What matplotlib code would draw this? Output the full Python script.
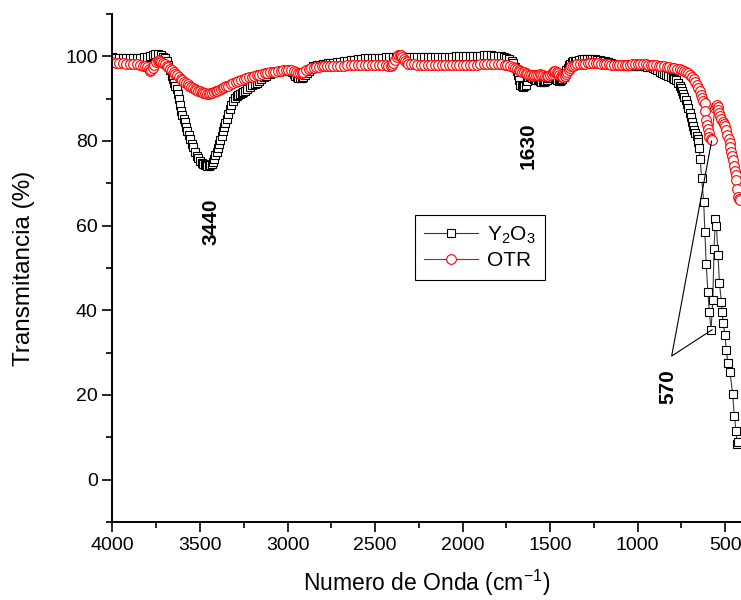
import numpy as np
import matplotlib
matplotlib.use("Agg")
import matplotlib.pyplot as plt
from matplotlib.ticker import MultipleLocator

plt.rcParams['font.family'] = ['Liberation Sans', 'DejaVu Sans']
plt.rcParams['mathtext.fontset'] = 'custom'
plt.rcParams['mathtext.rm'] = 'Liberation Sans'

# Y2O3 spectrum: (wavenumber cm-1, transmittance %)
y2o3_points = [
    (4000, 99.8), (3980, 99.7), (3960, 99.7), (3940, 99.6), (3920, 99.7), (3900, 99.6),
    (3880, 99.5), (3860, 99.6), (3840, 99.7), (3820, 99.8), (3800, 99.9), (3785, 100.1),
    (3770, 100.4), (3755, 100.6), (3740, 100.5), (3725, 100.2), (3712, 99.9), (3700, 99.5),
    (3690, 98.9), (3680, 98.0), (3671, 96.8), (3662, 95.4), (3655, 94.6), (3648, 93.8),
    (3640, 93.0), (3633, 92.2), (3626, 91.0), (3620, 89.8), (3613, 88.4), (3607, 87.2),
    (3600, 86.2), (3593, 85.2), (3586, 84.4), (3579, 83.3), (3572, 82.3), (3565, 81.3),
    (3557, 80.4), (3548, 79.4), (3540, 78.5), (3530, 77.4), (3519, 76.5), (3510, 75.9),
    (3500, 75.3), (3491, 74.9), (3483, 74.6), (3474, 74.4), (3465, 74.3), (3457, 74.2),
    (3450, 74.2), (3441, 74.3), (3433, 74.5), (3426, 75.0), (3420, 75.8), (3412, 76.6),
    (3405, 77.4), (3398, 78.3), (3390, 79.3), (3383, 80.3), (3376, 81.2), (3369, 82.3),
    (3362, 83.3), (3355, 84.2), (3348, 85.1), (3339, 86.3), (3330, 87.5), (3321, 88.6),
    (3312, 89.5), (3301, 90.1), (3290, 90.6), (3280, 90.9), (3270, 91.2), (3262, 91.4),
    (3254, 91.5), (3242, 91.9), (3230, 92.3), (3215, 92.8), (3200, 93.2), (3188, 93.5),
    (3176, 93.8), (3163, 94.2), (3150, 94.6), (3135, 95.0), (3120, 95.4), (3100, 95.8),
    (3083, 96.2), (3066, 96.4), (3050, 96.5), (3035, 96.6), (3020, 96.6), (3003, 96.6),
    (2986, 96.6), (2975, 96.2), (2965, 95.8), (2956, 95.3), (2948, 95.0), (2939, 94.8),
    (2930, 94.8), (2920, 94.9), (2911, 95.0), (2900, 95.5), (2890, 96.0), (2880, 96.6),
    (2870, 97.0), (2862, 97.3), (2855, 97.6), (2842, 97.8), (2830, 97.9), (2815, 98.0),
    (2800, 98.2), (2785, 98.3), (2770, 98.4), (2755, 98.5), (2740, 98.5), (2720, 98.6),
    (2700, 98.7), (2680, 98.9), (2660, 99.0), (2640, 99.1), (2620, 99.2), (2600, 99.3),
    (2580, 99.4), (2560, 99.5), (2540, 99.6), (2520, 99.6), (2500, 99.7), (2480, 99.7),
    (2460, 99.7), (2440, 99.8), (2420, 99.8), (2400, 99.8), (2380, 99.8), (2360, 99.9),
    (2340, 99.9), (2320, 99.9), (2300, 99.9), (2280, 99.8), (2260, 99.8), (2240, 99.8),
    (2220, 99.8), (2200, 99.9), (2180, 99.9), (2160, 99.9), (2140, 99.9), (2120, 99.9),
    (2100, 99.9), (2080, 99.9), (2060, 99.9), (2040, 100.0), (2020, 100.0), (2000, 100.0),
    (1980, 100.0), (1960, 100.1), (1940, 100.1), (1920, 100.1), (1900, 100.1), (1880, 100.2),
    (1860, 100.2), (1840, 100.2), (1820, 100.1), (1800, 100.0), (1780, 100.0), (1765, 99.9),
    (1750, 99.7), (1735, 99.4), (1720, 99.0), (1710, 98.4), (1700, 97.5), (1692, 96.5),
    (1685, 95.5), (1677, 94.3), (1670, 93.3), (1662, 92.9), (1655, 92.8), (1647, 93.0),
    (1640, 93.3), (1632, 94.2), (1625, 95.0), (1617, 95.2), (1610, 95.2), (1602, 94.9),
    (1595, 94.6), (1587, 94.4), (1580, 94.3), (1572, 94.4), (1565, 94.5), (1557, 94.2),
    (1550, 94.0), (1542, 93.9), (1535, 93.9), (1527, 94.1), (1520, 94.4), (1512, 94.9),
    (1505, 95.3), (1497, 95.5), (1490, 95.5), (1482, 95.3), (1475, 95.0), (1467, 94.6),
    (1460, 94.3), (1452, 94.1), (1445, 94.1), (1437, 94.3), (1430, 94.6), (1422, 95.2),
    (1415, 96.0), (1407, 96.7), (1400, 97.3), (1392, 97.9), (1385, 98.3), (1377, 98.6),
    (1370, 98.8), (1360, 98.9), (1350, 99.0), (1335, 99.2), (1320, 99.3), (1305, 99.4),
    (1290, 99.4), (1275, 99.4), (1260, 99.3), (1245, 99.3), (1230, 99.2), (1215, 99.1),
    (1200, 99.0), (1185, 98.8), (1170, 98.6), (1155, 98.4), (1140, 98.3), (1125, 98.1),
    (1110, 98.0), (1095, 97.9), (1080, 97.8), (1065, 97.7), (1050, 97.6), (1035, 97.6),
    (1020, 97.6), (1005, 97.6), (990, 97.6), (975, 97.6), (960, 97.6), (945, 97.5),
    (930, 97.4), (915, 97.2), (900, 97.0), (887, 96.7), (874, 96.4), (862, 96.1),
    (850, 95.8), (837, 95.5), (825, 95.3), (812, 95.1), (800, 94.9), (790, 94.6),
    (780, 94.3), (770, 93.7), (760, 93.0), (752, 92.4), (745, 91.8), (739, 91.2),
    (733, 90.5), (725, 89.6), (718, 88.8), (711, 87.7), (704, 86.6), (697, 85.6),
    (690, 84.6), (683, 83.6), (676, 82.6), (670, 81.9), (664, 81.2), (658, 80.5),
    (653, 79.8), (649, 78.3), (643, 75.7), (635, 71.3), (623, 65.6), (616, 58.6),
    (609, 51.0), (599, 44.3), (591, 39.7), (581, 35.4), (571, 42.5), (564, 54.5),
    (556, 61.6), (550, 59.9), (541, 53.0), (533, 46.5), (522, 42.0), (518, 39.6),
    (512, 37.0), (501, 34.2), (495, 30.7), (484, 27.6), (473, 25.5), (458, 20.3),
    (448, 15.1), (438, 11.4), (432, 8.5), (425, 9.0),
]

# OTR spectrum: (wavenumber cm-1, transmittance %)
otr_points = [
    (4000, 98.6), (3980, 98.5), (3960, 98.4), (3940, 98.4), (3920, 98.3), (3900, 98.2),
    (3880, 98.2), (3860, 98.1), (3840, 98.0), (3825, 97.8), (3812, 97.7), (3800, 97.5),
    (3792, 97.0), (3785, 96.5), (3777, 96.7), (3770, 97.2), (3760, 97.9), (3750, 98.6),
    (3742, 99.0), (3735, 99.2), (3727, 99.0), (3720, 98.7), (3710, 98.4), (3700, 98.1),
    (3690, 97.8), (3680, 97.4), (3670, 97.1), (3660, 96.7), (3650, 96.3), (3640, 95.9),
    (3630, 95.5), (3620, 95.1), (3610, 94.7), (3600, 94.4), (3590, 94.0), (3580, 93.7),
    (3570, 93.4), (3560, 93.1), (3550, 92.8), (3540, 92.6), (3530, 92.3), (3520, 92.1),
    (3510, 91.9), (3500, 91.7), (3490, 91.5), (3480, 91.4), (3470, 91.3), (3460, 91.2),
    (3450, 91.2), (3440, 91.3), (3430, 91.4), (3420, 91.6), (3410, 91.7), (3400, 91.9),
    (3390, 92.1), (3380, 92.3), (3370, 92.5), (3360, 92.7), (3350, 92.9), (3340, 93.1),
    (3325, 93.4), (3310, 93.6), (3295, 93.9), (3280, 94.1), (3265, 94.4), (3250, 94.6),
    (3235, 94.8), (3220, 95.0), (3205, 95.2), (3190, 95.4), (3175, 95.6), (3160, 95.7),
    (3145, 95.9), (3130, 96.0), (3115, 96.1), (3100, 96.2), (3085, 96.3), (3070, 96.4),
    (3055, 96.5), (3040, 96.6), (3025, 96.7), (3010, 96.8), (2995, 96.8), (2980, 96.7),
    (2965, 96.5), (2950, 96.2), (2940, 96.0), (2930, 96.0), (2920, 96.1), (2910, 96.4),
    (2895, 96.7), (2880, 97.0), (2865, 97.2), (2850, 97.3), (2835, 97.4), (2820, 97.5),
    (2805, 97.6), (2790, 97.6), (2775, 97.7), (2760, 97.7), (2740, 97.8), (2720, 97.8),
    (2700, 97.8), (2680, 97.8), (2660, 97.9), (2640, 97.9), (2620, 97.9), (2600, 97.9),
    (2580, 98.0), (2560, 98.0), (2540, 98.0), (2520, 98.0), (2500, 98.0), (2480, 98.0),
    (2460, 98.0), (2440, 97.9), (2425, 97.8), (2410, 97.6), (2402, 97.9), (2395, 98.4),
    (2385, 99.2), (2375, 99.9), (2368, 100.2), (2360, 100.4), (2352, 100.2), (2345, 99.8),
    (2337, 99.4), (2330, 99.0), (2320, 98.6), (2310, 98.3), (2295, 98.2), (2280, 98.1),
    (2260, 98.0), (2240, 98.0), (2220, 98.0), (2200, 98.0), (2180, 97.9), (2160, 97.9),
    (2140, 97.9), (2120, 97.9), (2100, 97.9), (2080, 97.9), (2060, 97.9), (2040, 97.9),
    (2020, 97.9), (2000, 97.9), (1980, 98.0), (1960, 98.0), (1940, 98.0), (1920, 98.0),
    (1900, 98.1), (1880, 98.1), (1860, 98.2), (1840, 98.2), (1820, 98.2), (1800, 98.2),
    (1780, 98.1), (1760, 98.0), (1745, 97.9), (1730, 97.7), (1715, 97.5), (1700, 97.3),
    (1690, 97.0), (1680, 96.8), (1670, 96.6), (1660, 96.4), (1650, 96.2), (1640, 96.0),
    (1630, 95.8), (1620, 95.7), (1610, 95.5), (1600, 95.4), (1590, 95.5), (1580, 95.6),
    (1570, 95.7), (1560, 95.8), (1550, 95.7), (1540, 95.6), (1530, 95.4), (1520, 95.3),
    (1510, 95.4), (1500, 95.6), (1492, 95.9), (1485, 96.3), (1477, 96.5), (1470, 96.6),
    (1462, 96.4), (1455, 96.0), (1447, 95.6), (1440, 95.3), (1432, 95.2), (1425, 95.2),
    (1417, 95.4), (1410, 95.8), (1402, 96.3), (1395, 96.8), (1387, 97.2), (1380, 97.6),
    (1370, 97.8), (1360, 98.0), (1345, 98.1), (1330, 98.2), (1315, 98.3), (1300, 98.3),
    (1285, 98.4), (1270, 98.4), (1255, 98.4), (1240, 98.4), (1225, 98.4), (1210, 98.3),
    (1195, 98.3), (1180, 98.2), (1165, 98.1), (1150, 98.0), (1135, 98.0), (1120, 97.9),
    (1105, 97.9), (1090, 97.9), (1075, 97.9), (1060, 98.0), (1045, 98.0), (1030, 98.1),
    (1015, 98.1), (1000, 98.1), (985, 98.1), (970, 98.1), (955, 98.1), (940, 98.0),
    (925, 98.0), (910, 98.0), (895, 97.9), (880, 97.8), (865, 97.7), (850, 97.6),
    (835, 97.5), (820, 97.4), (805, 97.3), (790, 97.2), (775, 97.1), (760, 97.0),
    (748, 96.8), (735, 96.6), (722, 96.3), (710, 96.0), (700, 95.6), (690, 95.2),
    (680, 94.6), (670, 94.0), (662, 93.3), (655, 92.6), (647, 91.7), (640, 90.8),
    (634, 90.1), (628, 89.4), (618, 88.9), (613, 87.0), (609, 85.0), (604, 83.8),
    (600, 82.8), (595, 81.8), (590, 81.0), (584, 80.5), (578, 80.2), (560, 87.8),
    (554, 88.3), (548, 88.5), (544, 88.0), (540, 87.4), (535, 86.7), (530, 86.0),
    (522, 85.2), (515, 84.5), (508, 84.0), (500, 83.5), (494, 82.5), (488, 81.5),
    (481, 80.5), (475, 79.5), (470, 78.5), (465, 77.5), (460, 76.5), (455, 75.5),
    (450, 74.2), (445, 73.0), (441, 71.9), (437, 70.8), (432, 68.7), (428, 66.7),
    (423, 66.2), (418, 66.0),
]

y2o3_wn, y2o3_t = zip(*y2o3_points)
otr_wn, otr_t = zip(*otr_points)

fig = plt.figure(figsize=(7.41, 6.0), dpi=100)
ax = fig.add_axes([0.1517, 0.13, 0.8483, 0.8467])

ax.plot(y2o3_wn, y2o3_t, color='#3a3a3a', lw=0.8, marker='s', markersize=5.5,
        markerfacecolor='white', markeredgecolor='black', markeredgewidth=0.8,
        label='Y$_2$O$_3$')
ax.plot(otr_wn, otr_t, color='red', lw=0.8, marker='o', markersize=7,
        markerfacecolor='white', markeredgecolor='red', markeredgewidth=0.8,
        label='OTR')

ax.set_xlim(4000, 410)
ax.set_ylim(-10, 110)
ax.xaxis.set_major_locator(MultipleLocator(500))
ax.xaxis.set_minor_locator(MultipleLocator(250))
ax.yaxis.set_major_locator(MultipleLocator(20))
ax.yaxis.set_minor_locator(MultipleLocator(10))
ax.tick_params(which='major', direction='out', length=7, width=1.2, labelsize=14)
ax.tick_params(which='minor', direction='out', length=4, width=1.2)

for s in ['top', 'right']:
    ax.spines[s].set_visible(False)
for s in ['left', 'bottom']:
    ax.spines[s].set_linewidth(1.4)

ax.set_xlabel('Numero de Onda (cm$^{\\mathregular{-1}}$)', fontsize=16.5, labelpad=10)
ax.set_ylabel('Transmitancia (%)', fontsize=17.5, labelpad=22)

# peak annotations
ax.text(3436, 61, '3440', rotation=90, ha='center', va='center',
        fontsize=15, fontweight='bold')
ax.text(1628, 78.8, '1630', rotation=90, ha='center', va='center',
        fontsize=15, fontweight='bold')
ax.text(829, 22, '570', rotation=90, ha='center', va='center',
        fontsize=15, fontweight='bold')
ax.plot([578, 806, 575], [80, 29.2, 35.4], color='black', lw=0.8)

leg = ax.legend(loc='upper left', bbox_to_anchor=(0.481, 0.604), fontsize=15,
                numpoints=1, fancybox=False, framealpha=1, edgecolor='black',
                borderpad=0.45, borderaxespad=0, handlelength=2.6, labelspacing=0.25,
                handletextpad=0.4)
leg.get_frame().set_linewidth(0.8)

fig.savefig('out.png', dpi=100)
